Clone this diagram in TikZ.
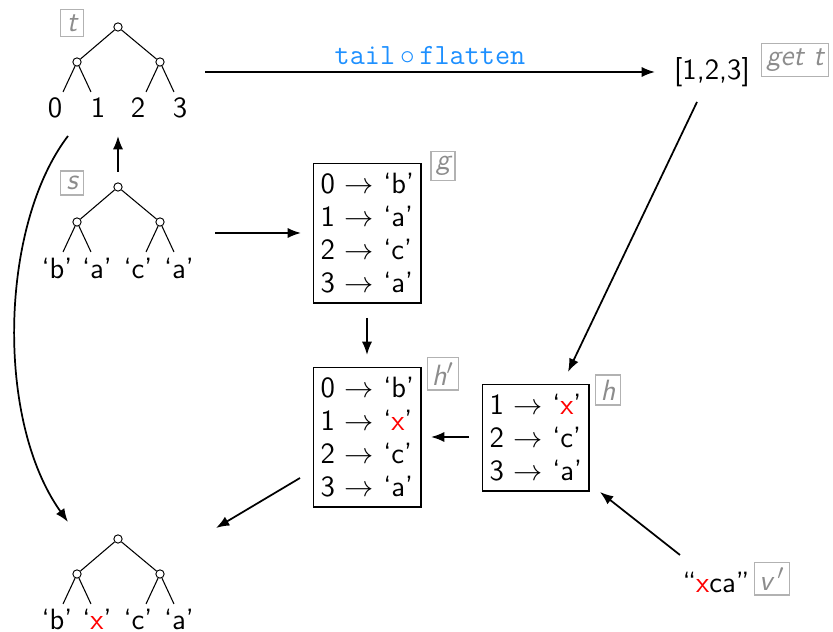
\documentclass[tikz,border=0pt]{standalone}
\usetikzlibrary{arrows.meta}
\definecolor{codeblue}{RGB}{30,144,255}
\begin{document}
\begin{tikzpicture}[x=0.375pt,y=-0.375pt,
  every node/.style={font=\sffamily\fontsize{11}{12.4}\selectfont},
  knot/.style={circle,draw,fill=white,inner sep=0pt,minimum size=3.1pt,line width=0.35pt},
  leaf/.style={inner sep=1.5pt},
  edge/.style={line width=0.4pt},
  arr/.style={line width=0.65pt,-{Latex[length=5pt,width=3.8pt]}},
  tag/.style={draw=black!30,text=black!45,line width=0.4pt,inner sep=1.8pt,
    minimum height=9pt,minimum width=8.5pt,font=\sffamily\itshape\fontsize{11}{12.4}\selectfont},
  table/.style={draw,line width=0.5pt,align=left,inner xsep=2.6pt,inner ysep=3.6pt}]
\useasboundingbox (0,0) rectangle (833,632);

% tree t
\node[knot] (tr) at (118,27) {};
\node[knot] (tl) at (77,62) {};
\node[knot] (tR) at (160,62) {};
\node[leaf] (t0) at (55,108) {0};
\node[leaf] (t1) at (98,108) {1};
\node[leaf] (t2) at (138,108) {2};
\node[leaf] (t3) at (180,108) {3};
\draw[edge] (tr) -- (tl) (tr) -- (tR)
  (tl) -- +(-14,30) (tl) -- +(14,30) (tR) -- +(-14,30) (tR) -- +(14,30);
\node[tag] (tagt) at (72,23) {t};

% tree s
\node[knot] (sr) at (118,187) {};
\node[knot] (sl) at (77,222) {};
\node[knot] (sR) at (160,222) {};
\node[leaf] (s0) at (57,268) {‘b’};
\node[leaf] (s1) at (97,268) {‘a’};
\node[leaf] (s2) at (138,268) {‘c’};
\node[leaf] (s3) at (179,268) {‘a’};
\draw[edge] (sr) -- (sl) (sr) -- (sR)
  (sl) -- +(-14,30) (sl) -- +(14,30) (sR) -- +(-14,30) (sR) -- +(14,30);
\node[tag] (tags) at (72,183) {s};

% result tree
\node[knot] (br) at (118,539) {};
\node[knot] (bl) at (77,574) {};
\node[knot] (bR) at (160,574) {};
\node[leaf] (b0) at (57,619) {‘b’};
\node[leaf] (b1) at (97,619) {‘\textcolor{red}{x}’};
\node[leaf] (b2) at (138,619) {‘c’};
\node[leaf] (b3) at (179,619) {‘a’};
\draw[edge] (br) -- (bl) (br) -- (bR)
  (bl) -- +(-14,30) (bl) -- +(14,30) (bR) -- +(-14,30) (bR) -- +(14,30);

% tables
\node[table,anchor=north west] (g) at (313,163)
  {0 $\rightarrow$ ‘b’\\ 1 $\rightarrow$ ‘a’\\ 2 $\rightarrow$ ‘c’\\ 3 $\rightarrow$ ‘a’};
\node[tag] (tagg) at (443,166) {g};
\node[table,anchor=north west] (hp) at (313,367)
  {0 $\rightarrow$ ‘b’\\ 1 $\rightarrow$ ‘\textcolor{red}{x}’\\ 2 $\rightarrow$ ‘c’\\ 3 $\rightarrow$ ‘a’};
\node[tag] (taghp) at (443,374) {h$'$};
\node[table,anchor=north west] (h) at (482,384)
  {1 $\rightarrow$ ‘\textcolor{red}{x}’\\ 2 $\rightarrow$ ‘c’\\ 3 $\rightarrow$ ‘a’};
\node[tag] (tagh) at (608,390) {h};

% lists
\node (lst) at (712,72) {[1,2,3]};
\node[tag] (tagget) at (795,60) {get~t};
\node (str) at (716,582) {“\textcolor{red}{x}ca”};
\node[tag] (tagv) at (772,579) {v\,$'$};

% connector ends
\coordinate (a1) at (205,72);  \coordinate (a2) at (655,72);
\coordinate (b1) at (697,102); \coordinate (b2) at (568,372);
\coordinate (c1) at (118,172); \coordinate (c2) at (118,136);
\coordinate (d1) at (215,233); \coordinate (d2) at (301,233);
\coordinate (e1) at (367,318); \coordinate (e2) at (367,355);
\coordinate (f1) at (469,437); \coordinate (f2) at (431,437);
\coordinate (k1) at (300,478); \coordinate (k2) at (216,528);
\coordinate (m1) at (680,555); \coordinate (m2) at (600,492);
\coordinate (n1) at (68,136);  \coordinate (n2) at (68,522);

\draw[arr] (a1) -- node[above=-1pt,text=codeblue,font=\fontsize{11}{12.4}\selectfont]
  {\texttt{tail}$\,\circ\,$\texttt{flatten}} (a2);
\draw[arr] (b1) -- (b2);
\draw[arr] (c1) -- (c2);
\draw[arr] (d1) -- (d2);
\draw[arr] (e1) -- (e2);
\draw[arr] (f1) -- (f2);
\draw[arr] (k1) -- (k2);
\draw[arr] (m1) -- (m2);
\draw[arr] (n1) .. controls (0,225) and (-5,420) .. (n2);
\end{tikzpicture}
\end{document}
